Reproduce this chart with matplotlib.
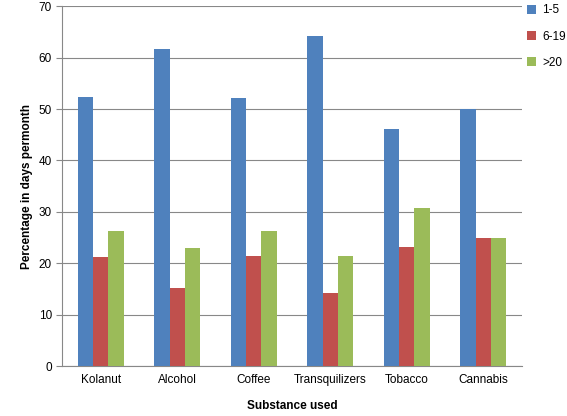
import numpy as np
import matplotlib
matplotlib.use("Agg")
import matplotlib.pyplot as plt

categories = ["Kolanut", "Alcohol", "Coffee", "Transquilizers", "Tobacco", "Cannabis"]
s_1_5 = [52.4, 61.7, 52.1, 64.3, 46.2, 50.0]
s_6_19 = [21.3, 15.2, 21.4, 14.3, 23.1, 25.0]
s_20 = [26.2, 23.0, 26.3, 21.4, 30.8, 25.0]
labels = ["1-5", "6-19", ">20"]
colors = ["#4F81BD", "#C0504D", "#9BBB59"]

plt.rcParams['font.family'] = ['Liberation Sans', 'DejaVu Sans']
fig = plt.figure(figsize=(5.67, 4.16), dpi=100)
ax = fig.add_axes([0.11, 0.12, 0.81, 0.865])

x = np.arange(len(categories))
w = 0.2
for i, (vals, lab, c) in enumerate(zip([s_1_5, s_6_19, s_20], labels, colors)):
    ax.bar(x + (i - 1) * w, vals, w, color=c, label=lab, zorder=3)

ax.set_xlim(-0.5, len(categories) - 0.5)
ax.set_ylim(0, 70)
ax.set_yticks(range(0, 71, 10))
ax.set_xticks(x)
ax.set_xticklabels(categories, fontsize=8.5)
ax.tick_params(axis='y', labelsize=8.5)
ax.yaxis.grid(True, color="#888888", linewidth=0.8, zorder=0)
for s in ["top", "right"]:
    ax.spines[s].set_visible(False)
ax.spines["left"].set_color("#888888")
ax.spines["bottom"].set_color("#888888")
ax.tick_params(axis='x', length=0, pad=6)
ax.tick_params(axis='y', length=4, color="#888888")
ax.set_xlabel("Substance used", fontsize=8.5, fontweight="bold", labelpad=10)
ax.set_ylabel("Percentage in days permonth", fontsize=8.5, fontweight="bold")
fig.legend(loc="upper left", bbox_to_anchor=(0.925, 0.995), frameon=False, fontsize=8.5,
           handlelength=0.8, handleheight=0.8, labelspacing=1.2, handletextpad=0.5,
           borderpad=0.2, borderaxespad=0)

fig.savefig("out.png", dpi=100)
